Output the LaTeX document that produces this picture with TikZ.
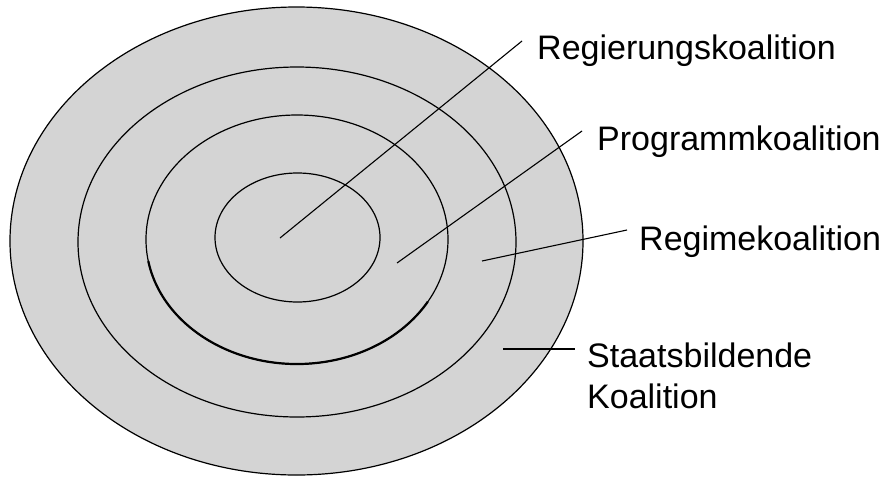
\documentclass[tikz,border=0pt]{standalone}
\usepackage{fontspec}
\setmainfont{Liberation Sans}
\definecolor{ringfill}{RGB}{212,212,212}
\begin{document}
\begin{tikzpicture}[x=1pt,y=1pt,
  ring/.style={draw=black,line width=1.2pt,fill=ringfill},
  lab/.style={inner sep=0pt,anchor=base west,font=\fontsize{34}{41}\selectfont},
  leader/.style={draw=black,line width=1.1pt}]
\useasboundingbox (0,0) rectangle (885,-477);
\fill[white] (0,0) rectangle (885,-477);
% rings
\path[ring] (296.5,-241) ellipse [x radius=286.5, y radius=234];
\path[ring] (297,-242) ellipse [x radius=219, y radius=175];
\path[ring] (297,-239.5) ellipse [x radius=151, y radius=124.5];
\draw[line width=2.2pt] (297,-239.5) ++(190:151 and 124.5) arc [start angle=190, end angle=330, x radius=151, y radius=124.5];
\path[ring] (297.5,-237.5) ellipse [x radius=82.5, y radius=64.5];
% labels
\node[lab] (rk) at (537,-59) {Regierungskoalition};
\node[lab] (pk) at (597,-150) {Programmkoalition};
\node[lab] (rm) at (639,-250) {Regimekoalition};
\node[lab] (sb) at (587,-367) {Staatsbildende};
\node[lab] (sb2) at (587,-408) {Koalition};
% leader ends
\coordinate (rkin) at (280,-238);
\coordinate (rkout) at (522,-41);
\coordinate (pkin) at (397,-263);
\coordinate (pkout) at (582,-131);
\coordinate (rmin) at (482,-261);
\coordinate (rmout) at (627,-230);
\coordinate (sbin) at (503,-349);
\coordinate (sbout) at (575,-349);
\draw[leader] (rkin) -- (rkout);
\draw[leader] (pkin) -- (pkout);
\draw[leader] (rmin) -- (rmout);
\draw[leader] (sbin) -- (sbout);
\end{tikzpicture}
\end{document}
